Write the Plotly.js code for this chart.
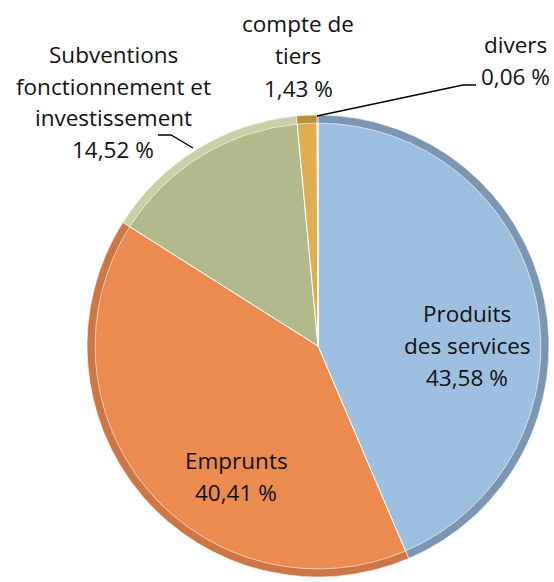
<!DOCTYPE html>
<html>
<head>
<meta charset="utf-8">
<script src="https://cdn.plot.ly/plotly-3.0.1.min.js"></script>
<style>html,body{margin:0;padding:0;background:#fff;}#chart{width:554px;height:582px;}</style>
</head>
<body>
<div id="chart"></div>
<script>
// Data
const categories = ["Produits des services", "Emprunts", "Subventions fonctionnement et investissement", "compte de tiers", "divers"];
const values = [43.58, 40.41, 14.52, 1.43, 0.06];
const labelLines = [
  ["Produits", "des services"],
  ["Emprunts"],
  ["Subventions", "fonctionnement et", "investissement"],
  ["compte de", "tiers"],
  ["divers"]
];
const colors = ["#9DC0E0", "#EB8B4F", "#B2B98D", "#E0AE50", "#9C7634"];
const rimColors = ["#7A96B2", "#CF7645", "#C9CFA6", "#BC8D3A", "#7A5C28"];

const W = 554, H = 582;
const px = x => x / W;
const py = y => 1 - y / H;
const fmt = v => v.toFixed(2).replace('.', ',') + ' %';

// label anchor positions (pixel centre of first line) and line spacing
const labelPos = [
  [467, 313], [236, 460], [113, 54], [298, 24], [515, 45]
];
const lineGap = 32;

const annotations = [];
categories.forEach((c, i) => {
  const lines = labelLines[i].concat([fmt(values[i])]);
  lines.forEach((t, k) => {
    annotations.push({
      xref: 'paper', yref: 'paper',
      x: px(labelPos[i][0]), y: py(labelPos[i][1] + k * lineGap),
      xanchor: 'center', yanchor: 'middle',
      text: t, showarrow: false,
      font: {family: '"Open Sans", Lato, sans-serif', size: 22.5, color: '#111'}
    });
  });
});

const shapes = [
  {type: 'path', xref: 'paper', yref: 'paper',
   path: `M ${px(158)} ${py(135)} L ${px(171)} ${py(135)} L ${px(193)} ${py(148)}`,
   line: {color: '#000', width: 1.3}},
  {type: 'path', xref: 'paper', yref: 'paper',
   path: `M ${px(317)} ${py(116)} L ${px(463)} ${py(85)} L ${px(476)} ${py(85)}`,
   line: {color: '#000', width: 1.3}}
];

const cx = 318, cy = 346, r = 231;
const dom = {x: [px(cx - r), px(cx + r)], y: [py(cy + r), py(cy - r)]};
const trace = {
  type: 'pie',
  labels: categories,
  values: values,
  sort: false,
  direction: 'clockwise',
  rotation: 0,
  textinfo: 'none',
  hoverinfo: 'label+percent',
  marker: {colors: colors, line: {color: '#ffffff', width: 1}},
  domain: dom
};
const rim = {
  type: 'pie',
  labels: categories,
  values: values,
  sort: false,
  direction: 'clockwise',
  rotation: 0,
  hole: 0.965,
  textinfo: 'none',
  hoverinfo: 'skip',
  marker: {colors: rimColors, line: {color: '#ffffff', width: 0.6}},
  domain: dom
};

const layout = {
  width: W, height: H,
  margin: {l: 0, r: 0, t: 0, b: 0},
  showlegend: false,
  paper_bgcolor: '#fff',
  annotations: annotations,
  shapes: shapes
};

Plotly.newPlot('chart', [trace, rim], layout, {displayModeBar: false, staticPlot: true});
</script>
</body>
</html>
